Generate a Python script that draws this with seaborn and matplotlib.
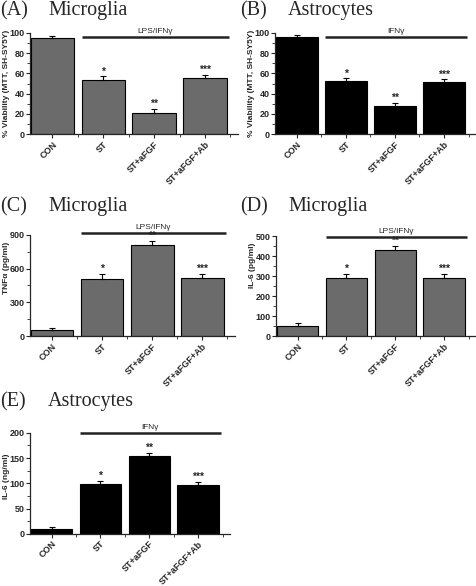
import matplotlib

matplotlib.use("Agg")
import matplotlib.pyplot as plt
import numpy as np
import pandas as pd
import seaborn as sns
from matplotlib.ticker import MultipleLocator

GROUPS = ["CON", "ST", "ST+aFGF", "ST+aFGF+Ab"]
STARS = ["", "*", "**", "***"]

via_micro = [95, 53, 20.5, 55.5]
via_micro_err = [2, 4, 4, 3]
via_astro = [96.5, 52, 28, 51]
via_astro_err = [2, 3, 3, 3]
tnf_micro = [55, 505, 810, 515]
tnf_micro_err = [20, 45, 35, 35]
il6_micro = [52, 290, 432, 292]
il6_micro_err = [12, 22, 20, 20]
il6_astro = [10, 99, 154, 96]
il6_astro_err = [4, 6, 7, 6]

GREY = "#6b6b6b"
BLACK = "#000000"

sns.set_theme(style="ticks")
plt.rcParams["font.family"] = ["Liberation Sans", "DejaVu Sans"]
plt.rcParams["font.weight"] = "bold"
plt.rcParams["axes.labelweight"] = "bold"
plt.rcParams["axes.linewidth"] = 0.9

fig = plt.figure(figsize=(4.77, 5.86), dpi=100)


def panel(rect, vals, errs, color, ylim, major, ylabel, label_y, treat, line_y,
          letter, cell, title_xy):
    ax = fig.add_axes(rect)
    df = pd.DataFrame({"group": GROUPS, "value": vals})
    sns.barplot(data=df, x="group", y="value", color=color, edgecolor="black",
                linewidth=0.8, width=0.85, errorbar=None, saturation=1, ax=ax)
    x = np.arange(len(vals))
    ax.errorbar(x, vals, yerr=[np.zeros(len(vals)), errs], fmt="none",
                ecolor="black", elinewidth=0.8, capsize=2, capthick=0.8)
    for xi, v, e, s in zip(x, vals, errs, STARS):
        if s:
            ax.text(xi, v + e, s, ha="center", va="bottom", fontsize=7.5)
    ax.set_xlim(-0.44, 3.65)
    ax.set_ylim(0, ylim)
    ax.yaxis.set_major_locator(MultipleLocator(major))
    ax.yaxis.set_minor_locator(MultipleLocator(major / 2))
    ax.set_xticks(x)
    ax.set_xticks([0.5, 1.5, 2.5, 3.5], minor=True)
    ax.tick_params(axis="both", which="major", length=3, width=0.8, labelsize=6.5, pad=1)
    ax.tick_params(axis="both", which="minor", length=2, width=0.6)
    ax.set_xticklabels(GROUPS, rotation=45, ha="right", rotation_mode="anchor",
                       fontsize=6.5)
    ax.set_xlabel("")
    ax.set_ylabel(ylabel, fontsize=6)
    ax.yaxis.set_label_coords(-19.5 / (rect[2] * 477), label_y)
    sns.despine(ax=ax)
    # treatment bar across the stimulated groups
    ax.plot([0.58, 3.47], [line_y, line_y], color="#222222", lw=1.8, clip_on=False,
            solid_capstyle="butt")
    ax.text(2.02, line_y + ylim * 0.015, treat, ha="center", va="bottom",
            fontsize=6, fontweight="normal")
    fx, fy = title_xy
    fig.text(fx, fy, letter, family="Liberation Serif", fontsize=14.5, va="top",
             fontweight="normal")
    fig.text(fx + 48 / 477, fy, cell, family="Liberation Serif", fontsize=14.5, va="top",
             fontweight="normal")
    return ax


panel([30 / 477, 0.7713, 208 / 477, 0.1724], via_micro, via_micro_err, GREY, 100, 20,
      "% Viability (MTT, SH-SY5Y)", 0.5, "LPS/IFN\u03b3", 96.5, "(A)", "Microglia",
      (0.0, 1 - 1 / 586))
panel([275 / 477, 0.7713, 201 / 477, 0.1724], via_astro, via_astro_err, BLACK, 100, 20,
      "% Viability (MTT, SH-SY5Y)", 0.5, "IFN\u03b3", 96.5, "(B)", "Astrocytes",
      (240 / 477, 1 - 1 / 586))
panel([30 / 477, 0.4266, 205 / 477, 0.1724], tnf_micro, tnf_micro_err, GREY, 900, 300,
      "TNF\u03b1 (pg/ml)", 0.67, "LPS/IFN\u03b3", 920, "(C)", "Microglia",
      (0.0, 1 - 197 / 586))
panel([276 / 477, 0.4266, 200 / 477, 0.1706], il6_micro, il6_micro_err, GREY, 500, 100,
      "IL-6 (pg/ml)", 0.71, "LPS/IFN\u03b3", 497, "(D)", "Microglia",
      (240 / 477, 1 - 197 / 586))
panel([30 / 477, 0.089, 200 / 477, 0.1724], il6_astro, il6_astro_err, BLACK, 200, 50,
      "IL-6 (ng/ml)", 0.57, "IFN\u03b3", 200, "(E)", "Astrocytes",
      (0.0, 1 - 392 / 586))

fig.savefig("out.png", dpi=100)
